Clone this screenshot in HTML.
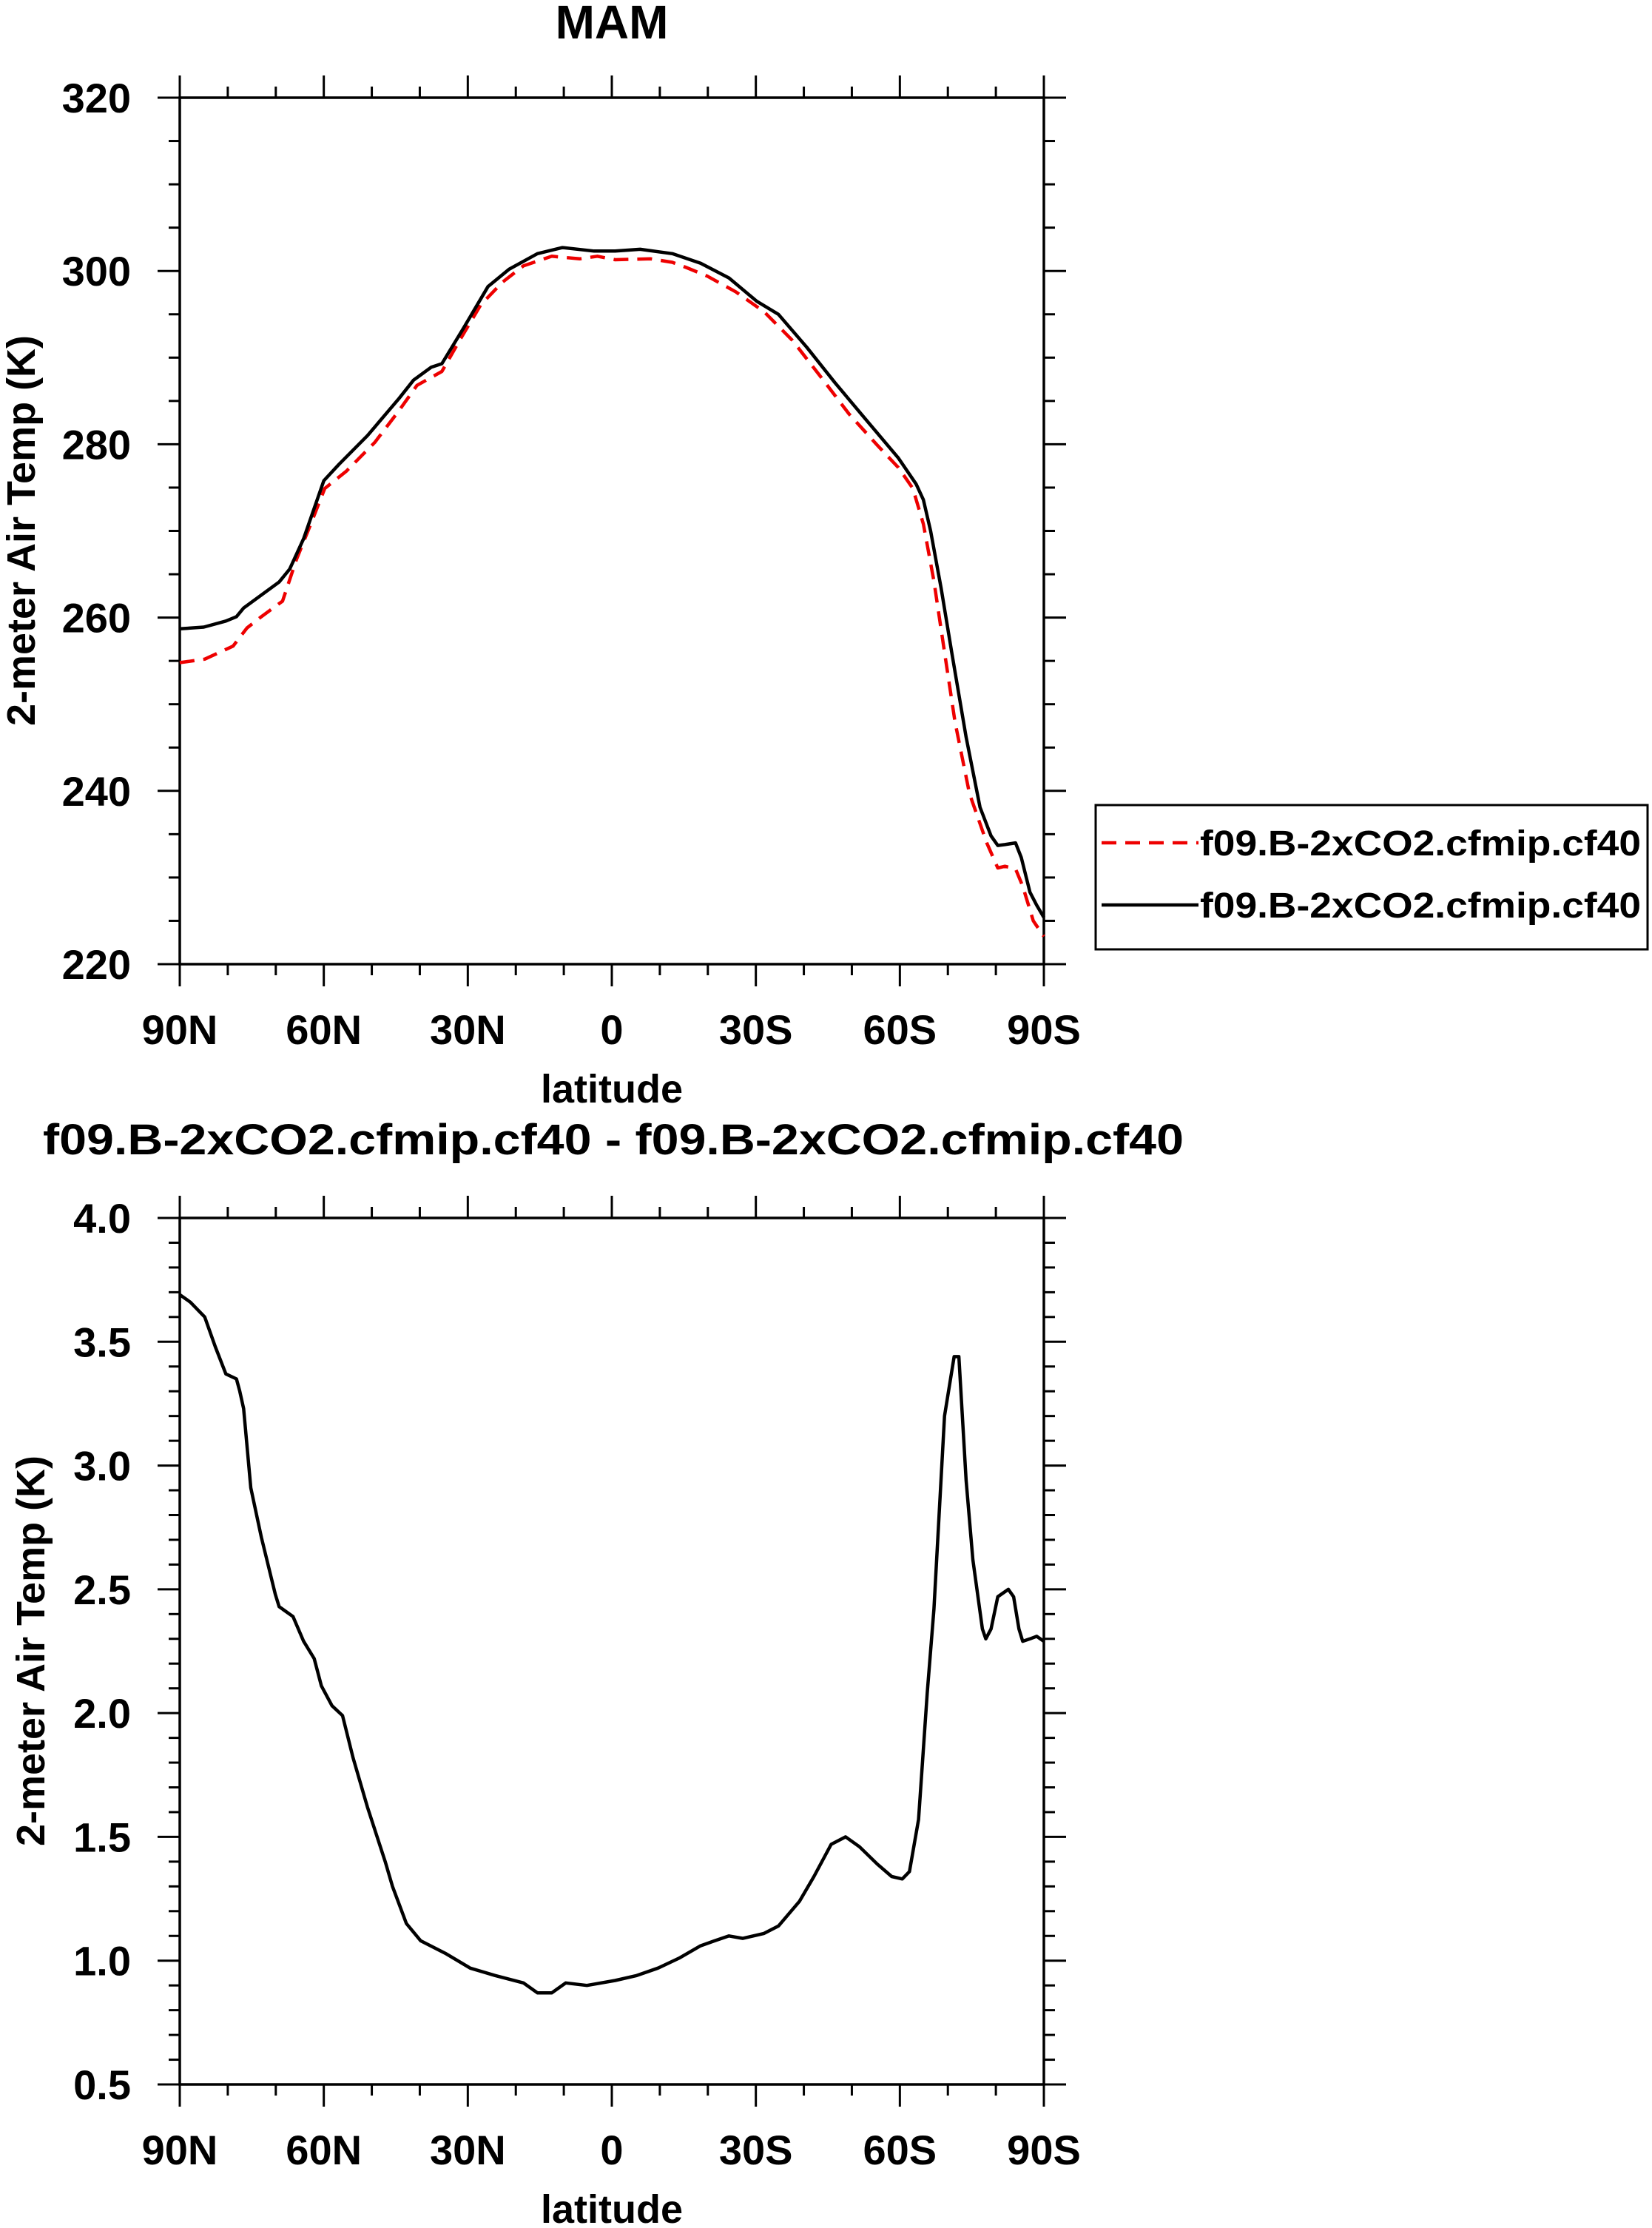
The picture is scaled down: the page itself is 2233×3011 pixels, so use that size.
<!DOCTYPE html>
<html><head><meta charset="utf-8"><style>
html,body{margin:0;padding:0;background:#fff;}
svg{display:block;font-family:"Liberation Sans",Arial,sans-serif;font-weight:bold;}
</style></head><body>
<svg id="fig" width="2233" height="3011" viewBox="0 0 2233 3011" xmlns="http://www.w3.org/2000/svg">
<text x="827" y="52" font-size="64" text-anchor="middle">MAM</text>
<text x="829" y="1560" font-size="58" text-anchor="middle" textLength="1542" lengthAdjust="spacingAndGlyphs">f09.B-2xCO2.cfmip.cf40 - f09.B-2xCO2.cfmip.cf40</text>
<text transform="translate(47,717) rotate(-90)" font-size="54" text-anchor="middle">2-meter Air Temp (K)</text>
<text transform="translate(60,2231) rotate(-90)" font-size="54" text-anchor="middle">2-meter Air Temp (K)</text>
<text x="827" y="1490" font-size="54" text-anchor="middle">latitude</text>
<text x="827" y="3004" font-size="54" text-anchor="middle">latitude</text>
<g>
<rect x="1481" y="1088" width="746" height="195" fill="none" stroke="#000" stroke-width="3"/>
<line x1="1489" y1="1139" x2="1620" y2="1139" stroke="#e00" stroke-width="4.5" stroke-dasharray="20,12"/>
<text x="1622" y="1156" font-size="48" textLength="596" lengthAdjust="spacingAndGlyphs">f09.B-2xCO2.cfmip.cf40</text>
<line x1="1489" y1="1223" x2="1620" y2="1223" stroke="#000" stroke-width="4.5"/>
<text x="1622" y="1240" font-size="48" textLength="596" lengthAdjust="spacingAndGlyphs">f09.B-2xCO2.cfmip.cf40</text>
</g>
</svg>
<script>
const topLats=[90,85,80.4,78.2,76.7,69.3,67.1,64.2,60,56.8,50.9,44.3,41.3,37.6,35.4,31,25.8,21.4,15.5,10.3,3.7,-0.7,-5.9,-12.6,-18.5,-24.4,-30.2,-34.7,-40.6,-46.5,-52.4,-59.7,-63.4,-64.9,-66.4,-68.6,-70.8,-73.8,-76.7,-79,-80.4,-81.9,-84.1,-85.3,-87.1,-88.5,-90];
const topBlack=[258.7,258.9,259.6,260.1,261.1,264.1,265.6,269.1,275.8,277.7,281,285.3,287.4,288.9,289.3,293.3,298.2,300.2,302,302.7,302.3,302.3,302.5,302,300.9,299.2,296.5,295,291.2,287.1,283.2,278.4,275.4,273.6,270,263.4,256,246.2,238.1,234.8,233.7,233.8,234,232.3,228.3,226.8,225.4];
const redLats=[90,84.8,78.9,76,73,68.6,65.7,62.7,59.8,55.3,49.4,44.3,40.6,35.4,31.7,27.3,22.8,18.4,12.5,6.7,3,-0.7,-8.1,-12.6,-15.5,-19.9,-25.8,-31.7,-37.6,-43.5,-49.4,-55.3,-59.7,-62.7,-64.9,-67.1,-69.3,-71.5,-74.5,-78.1,-80.4,-81.9,-84.1,-85.6,-87.8,-90];
const topRed=[254.8,255.2,256.7,258.8,260.1,261.9,266.7,270.8,274.9,276.9,280.2,283.9,286.8,288.4,292,296.1,298.7,300.6,301.7,301.4,301.7,301.3,301.4,301,300.4,299.4,297.6,295.3,292,287.8,283.5,279.9,277.3,274.9,270.8,264.2,256,247.9,239.7,234,231.1,231.3,231,229,225,223.2];
const diffLats=[90,87.8,84.8,82.6,80.4,78.2,77.5,76.7,75.2,73,70.1,69.3,66.4,64.2,62,60.5,58.3,56.1,53.9,50.9,47.2,45.7,42.8,39.8,34.7,29.5,24.3,18.4,15.5,12.5,9.6,5.2,-0.7,-5.2,-9.6,-14,-18.5,-21.4,-24.4,-27.3,-31.7,-34.7,-39.1,-42.1,-45.7,-48.7,-51.6,-55.3,-58.3,-60.5,-62,-63.9,-65.7,-67.1,-69.3,-71.3,-72.3,-73.8,-75.2,-77.2,-77.9,-79,-80.4,-82.6,-83.7,-84.8,-85.6,-87.1,-88.5,-90];
const diffVals=[3.69,3.66,3.6,3.48,3.37,3.35,3.3,3.23,2.91,2.71,2.48,2.43,2.39,2.29,2.22,2.11,2.03,1.99,1.82,1.62,1.4,1.3,1.15,1.08,1.03,0.97,0.94,0.91,0.87,0.87,0.91,0.9,0.92,0.94,0.97,1.01,1.06,1.08,1.1,1.09,1.11,1.14,1.24,1.34,1.47,1.5,1.46,1.39,1.34,1.33,1.36,1.57,2.08,2.42,3.2,3.44,3.44,2.94,2.62,2.34,2.3,2.34,2.47,2.5,2.47,2.34,2.29,2.3,2.31,2.29];
const xTickVals=[90,60,30,0,-30,-60,-90];
const xTickLabels=["90N","60N","30N","0","30S","60S","90S"];
const topYTicks=[220,240,260,280,300,320];
const botYTicks=[0.5,1.0,1.5,2.0,2.5,3.0,3.5,4.0];

const NS="http://www.w3.org/2000/svg";
const svg=document.getElementById('fig');
const L=243,R=1411;
function mk(tag,attrs){const e=document.createElementNS(NS,tag);for(const k in attrs)e.setAttribute(k,attrs[k]);svg.appendChild(e);return e;}
function xs(lat){return L+(90-lat)/180*(R-L);}
function panel(prefix,top,bot,ymin,ymax,majors,minorStep,labelFmt){
  const ys=v=>bot-(v-ymin)/(ymax-ymin)*(bot-top);
  for(let lat=90;lat>=-90;lat-=10){
    const x=xs(lat),maj=(lat%30===0),len=maj?30:15;
    let t=mk('line',{x1:x,y1:bot,x2:x,y2:bot+len,stroke:'#000','stroke-width':3});
    
    
    t=mk('line',{x1:x,y1:top,x2:x,y2:top-len,stroke:'#000','stroke-width':3});
    
    
  }
  const n=Math.round((ymax-ymin)/minorStep);
  for(let i=0;i<=n;i++){
    const v=ymin+i*minorStep,y=ys(v);
    const maj=majors.some(m=>Math.abs(m-v)<1e-6),len=maj?30:15;
    let t=mk('line',{x1:L,y1:y,x2:L-len,y2:y,stroke:'#000','stroke-width':3});
    
    
    t=mk('line',{x1:R,y1:y,x2:R+len,y2:y,stroke:'#000','stroke-width':3});
    
    
  }
  majors.forEach(v=>{
    const t=mk('text',{x:177,y:ys(v)+20,'font-size':56,'text-anchor':'end'});
    t.textContent=labelFmt(v);
    
    
  });
  xTickVals.forEach((lat,i)=>{
    const t=mk('text',{x:xs(lat),y:bot+108,'font-size':56,'text-anchor':'middle'});
    t.textContent=xTickLabels[i];
    
    
  });
  const f=mk('rect',{x:L,y:top,width:R-L,height:bot-top,fill:'none',stroke:'#000','stroke-width':3.5});
  
  
  return ys;
}
function series(lats,vals,ys,attrs,name){
  const d=lats.map((lat,i)=>(i?'L':'M')+xs(lat).toFixed(1)+','+ys(vals[i]).toFixed(1)).join('');
  const p=mk('path',Object.assign({d:d,fill:'none','stroke-width':4.5,'stroke-linejoin':'round'},attrs));
  
  
}
const ysTop=panel('top',132,1303,220,320,topYTicks,5,v=>String(v));
series(redLats,topRed,ysTop,{stroke:'#e00','stroke-dasharray':'20,12'},'red-dashed-series');
series(topLats,topBlack,ysTop,{stroke:'#000'},'black-solid-series');
const ysBot=panel('bottom',1646,2817,0.5,4.0,botYTicks,0.1,v=>v.toFixed(1));
series(diffLats,diffVals,ysBot,{stroke:'#000'},'difference-series');
</script>
</body></html>
